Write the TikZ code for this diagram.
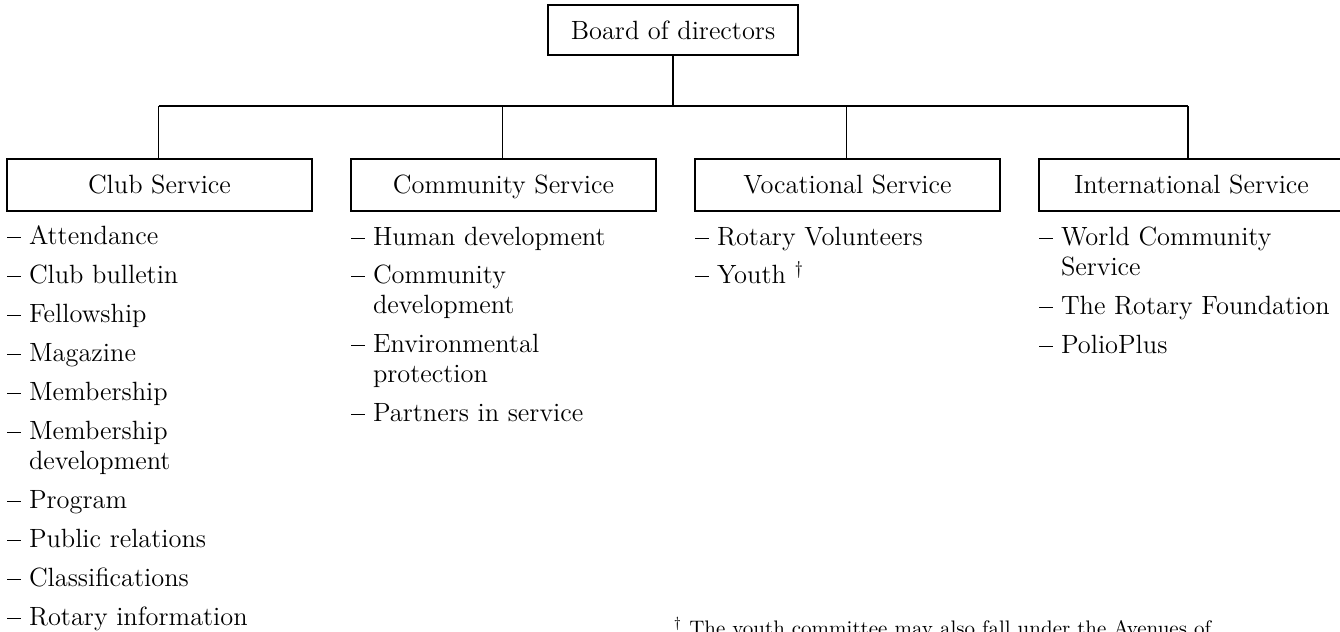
\documentclass[tikz,border=0pt]{standalone}
\begin{document}
\begin{tikzpicture}[x=0.5pt,y=-0.5pt,
  every node/.style={inner sep=0pt,outer sep=0pt,font=\fontsize{13.2pt}{15pt}\selectfont},
  boxnode/.style={draw,line width=0.6pt,minimum width=152.5pt,minimum height=26pt,text height=11pt,text depth=3pt},
  headnode/.style={draw,line width=0.6pt,minimum width=125pt,minimum height=25pt,text height=12pt,text depth=3pt},
  itemnode/.style={anchor=base west},
  link/.style={line width=0.6pt},
  notenode/.style={anchor=base east,font=\fontsize{10.5pt}{12pt}\selectfont}]
\useasboundingbox (0,0) rectangle (1340,632);
\clip (0,0) rectangle (1340,632);
\newcommand{\dsh}{\llap{\makebox[11pt][l]{\rule[2.8pt]{7pt}{0.8pt}}}}
% head and boxes
\node[headnode] (board) at (673,30) {Board of directors};
\node[boxnode] (club) at (159.5,185) {Club Service};
\node[boxnode] (comm) at (503.5,185) {Community Service};
\node[boxnode] (voc) at (847.5,185) {Vocational Service};
\node[boxnode] (intl) at (1191.5,185) {International Service};
% connectors
\coordinate (j0) at (673,106);
\coordinate (j1) at (158.5,106);
\coordinate (j2) at (502.5,106);
\coordinate (j3) at (846.5,106);
\coordinate (j4) at (1188,106);
\draw[link] (board.south) -- (j0);
\draw[link] (j1) -- (j4);
\draw[link] (j1) -- (j1 |- club.north);
\draw[link] (j2) -- (j2 |- comm.north);
\draw[link] (j3) -- (j3 |- voc.north);
\draw[link] (j4) -- (j4 |- intl.north);
% club service items
\node[itemnode] (c1) at (29,244) {\dsh Attendance};
\node[itemnode] (c2) at (29,283) {\dsh Club bulletin};
\node[itemnode] (c3) at (29,322) {\dsh Fellowship};
\node[itemnode] (c4) at (29,361) {\dsh Magazine};
\node[itemnode] (c5) at (29,400) {\dsh Membership};
\node[itemnode] (c6) at (29,439) {\dsh Membership};
\node[itemnode] (c6b) at (29,469) {development};
\node[itemnode] (c7) at (29,508) {\dsh Program};
\node[itemnode] (c8) at (29,547) {\dsh Public relations};
\node[itemnode] (c9) at (29,586) {\dsh Classifications};
\node[itemnode] (c10) at (29,625) {\dsh Rotary information};
% community service items
\node[itemnode] (m1) at (373,245) {\dsh Human development};
\node[itemnode] (m2) at (373,283) {\dsh Community};
\node[itemnode] (m2b) at (373,313) {development};
\node[itemnode] (m3) at (373,352) {\dsh Environmental};
\node[itemnode] (m3b) at (373,382) {protection};
\node[itemnode] (m4) at (373,421) {\dsh Partners in service};
% vocational service items
\node[itemnode] (v1) at (717,245) {\dsh Rotary Volunteers};
\node[itemnode] (v2) at (717,283) {\dsh Youth\ \textsuperscript{\textdagger}};
% international service items
\node[itemnode] (i1) at (1061,245) {\dsh World Community};
\node[itemnode] (i1b) at (1061,275) {Service};
\node[itemnode] (i2) at (1061,314) {\dsh The Rotary Foundation};
\node[itemnode] (i3) at (1061,353) {\dsh PolioPlus};
% footnote
\node[notenode] (note) at (1211,635) {\textsuperscript{\textdagger} The youth committee may also fall under the Avenues of};
\end{tikzpicture}
\end{document}
